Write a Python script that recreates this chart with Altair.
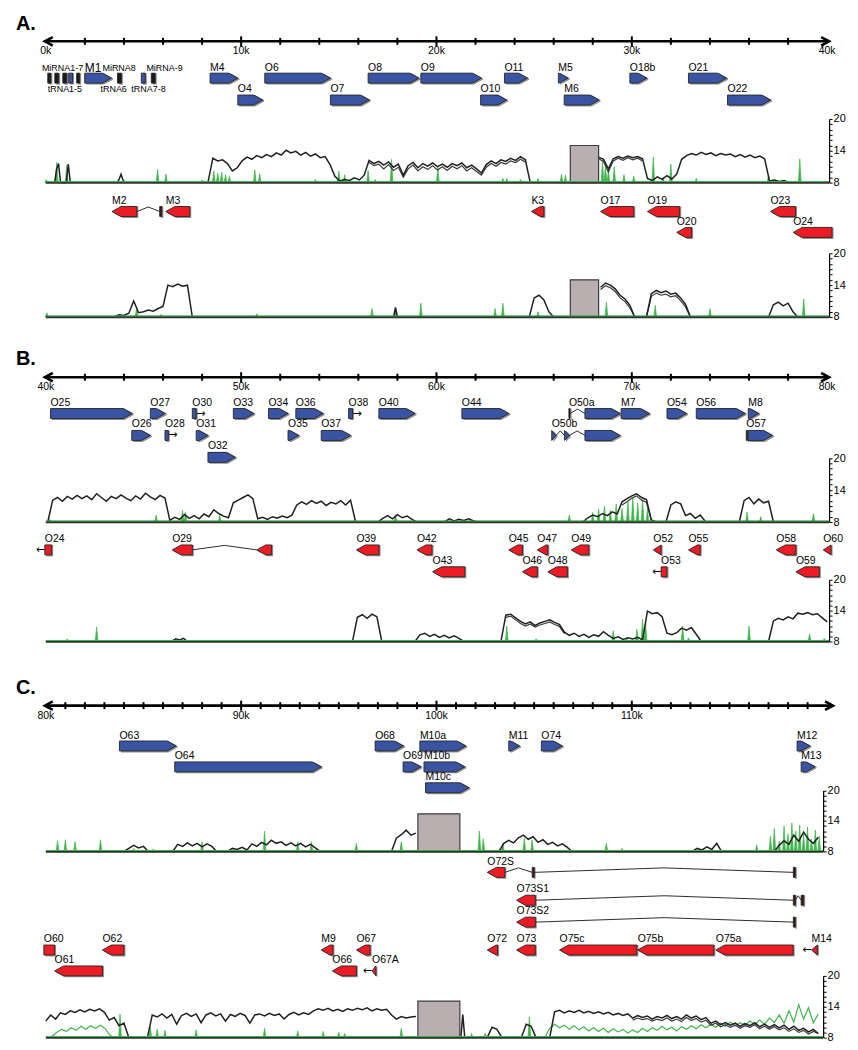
import altair as alt
import pandas as pd

FONT = "Liberation Sans"
BLUE = "#3a54a4"
RED = "#ed1c24"
GREEN = "#3cb54a"
INK = "#231f20"
KB_PX = 19.63
LEFT = 38 / KB_PX
TIP = 0.46

# ---------------- axis / panel data ----------------
TICKLAB_A = ["0k", "10k", "20k", "30k", "40k"]
TICKPOS_A = [0, 10, 20, 30, 40]
TICKLAB_B = ["40k", "50k", "60k", "70k", "80k"]
TICKPOS_B = [40, 50, 60, 70, 80]
TICKLAB_C = ["80k", "90k", "100k", "110k"]
TICKPOS_C = [80, 90, 100, 110]
MAJOR_A = [10, 20, 30]
MINOR_A = [2, 4, 6, 8, 12, 14, 16, 18, 22, 24, 26, 28, 32, 34, 36, 38]
MAJOR_B = [50, 60, 70]
MINOR_B = [42, 44, 46, 48, 52, 54, 56, 58, 62, 64, 66, 68, 72, 74, 76, 78]
MAJOR_C = [90, 100, 110]
MINOR_C = [81, 82, 83, 84, 85, 86, 87, 88, 89, 91, 92, 93, 94, 95, 96, 97, 98, 99,
           101, 102, 103, 104, 105, 106, 107, 108, 109, 111, 112, 113, 114, 115,
           116, 117, 118, 119]

# ---------------- gene features: (label, start kb, end kb, shape) ----------------
A_F1 = [("", 0.10, 0.26, "bar"), ("", 0.46, 0.66, "bar"), ("", 0.87, 1.07, "bar"),
        ("", 1.17, 1.37, "box"), ("", 1.58, 1.73, "bar"), ("M1", 1.99, 3.36, "fwd"),
        ("", 3.67, 3.87, "bar"), ("", 4.89, 5.09, "box"), ("", 5.40, 5.60, "bar"),
        ("M4", 8.41, 9.83, "fwd"), ("O6", 11.21, 14.57, "fwd"), ("O8", 16.50, 19.10, "fwd"),
        ("O9", 19.20, 22.30, "fwd"), ("O11", 23.48, 24.66, "fwd"), ("M5", 26.24, 26.74, "fwd"),
        ("O18b", 29.90, 30.77, "fwd"), ("O21", 32.90, 34.85, "fwd")]
A_F2 = [("O4", 9.83, 11.10, "fwd"), ("O7", 14.57, 16.56, "fwd"), ("O10", 22.26, 23.59, "fwd"),
        ("M6", 26.54, 28.32, "fwd"), ("O22", 34.90, 37.10, "fwd")]
A_R1 = [("M2", 3.39, 4.66, "rev"), ("", 5.83, 5.94, "bar"), ("M3", 6.14, 7.37, "rev"),
        ("K3", 24.86, 25.50, "rev"), ("O17", 28.40, 30.10, "rev"), ("O19", 30.80, 32.45, "rev"),
        ("O23", 37.10, 38.38, "rev")]
A_R2 = [("O20", 32.30, 33.06, "rev"), ("O24", 38.26, 40.25, "rev")]

B_F1 = [("O25", 40.24, 44.42, "fwd"), ("O27", 45.35, 46.11, "fwd"), ("O30", 47.50, 47.70, "box"),
        ("O33", 49.60, 50.65, "fwd"), ("O34", 51.40, 52.40, "fwd"), ("O36", 52.80, 54.20, "fwd"),
        ("O38", 55.50, 55.70, "box"), ("O40", 57.05, 58.90, "fwd"), ("O44", 61.30, 63.70, "fwd"),
        ("O50a", 66.78, 66.84, "bar"), ("", 67.60, 69.40, "fwd"), ("M7", 69.45, 70.90, "fwd"),
        ("O54", 71.80, 72.80, "fwd"), ("O56", 73.30, 75.80, "fwd"), ("M8", 75.96, 76.50, "fwd")]
B_F2 = [("O26", 44.40, 45.35, "fwd"), ("O28", 46.10, 46.27, "box"), ("O31", 47.70, 48.30, "fwd"),
        ("O35", 52.40, 52.95, "fwd"), ("O37", 54.10, 55.60, "fwd"), ("O50b", 65.90, 66.12, "fwd"),
        ("", 66.55, 66.80, "fwd"), ("", 67.60, 69.40, "fwd"), ("O57", 75.86, 75.93, "bar"),
        ("", 75.96, 77.20, "fwd")]
B_F3 = [("O32", 48.30, 49.70, "fwd")]
B_R1 = [("O24", 39.95, 40.30, "box"), ("O29", 46.47, 47.50, "rev"), ("", 50.80, 51.56, "rev"),
        ("O39", 55.90, 57.06, "rev"), ("O42", 59.00, 59.77, "rev"), ("O45", 63.70, 64.40, "rev"),
        ("O47", 65.16, 65.70, "rev"), ("O49", 66.90, 67.80, "rev"), ("O52", 71.10, 71.50, "rev"),
        ("O55", 72.90, 73.50, "rev"), ("O58", 77.40, 78.40, "rev"), ("O60", 79.80, 80.20, "rev")]
B_R2 = [("O43", 59.80, 61.45, "rev"), ("O46", 64.40, 65.16, "rev"), ("O48", 65.70, 66.70, "rev"),
        ("O53", 71.50, 71.80, "box"), ("O59", 78.40, 79.60, "rev")]

C_F1 = [("O63", 83.77, 86.67, "fwd"), ("O68", 96.86, 98.31, "fwd"), ("M10a", 99.15, 101.50, "fwd"),
        ("M11", 103.70, 104.25, "fwd"), ("O74", 105.37, 106.44, "fwd"), ("M12", 118.46, 119.12, "fwd")]
C_F2 = [("O64", 86.60, 94.10, "fwd"), ("O69", 98.29, 99.20, "fwd"), ("M10b", 99.36, 101.45, "fwd"),
        ("M13", 118.67, 119.38, "fwd")]
C_F3 = [("M10c", 99.44, 101.66, "fwd")]
C_S1 = [("O72S", 102.60, 103.50, "rev"), ("", 104.90, 105.00, "bar"), ("", 118.27, 118.37, "bar")]
C_S2 = [("O73S1", 104.10, 105.06, "rev"), ("", 118.27, 118.37, "bar"), ("", 118.67, 118.80, "bar")]
C_S3 = [("O73S2", 104.10, 105.06, "rev"), ("", 118.27, 118.37, "bar")]
C_R1 = [("O60", 79.90, 80.45, "box"), ("O62", 82.90, 84.00, "rev"), ("M9", 94.10, 94.70, "rev"),
        ("O67", 95.90, 96.60, "rev"), ("O72", 102.60, 103.13, "rev"), ("O73", 104.10, 105.06, "rev"),
        ("O75c", 106.30, 110.26, "rev"), ("O75b", 110.30, 114.20, "rev"), ("O75a", 114.30, 118.26, "rev"),
        ("M14", 119.20, 119.50, "rev")]
C_R2 = [("O61", 80.45, 82.90, "rev"), ("O66", 94.67, 95.90, "rev"), ("O67A", 96.70, 96.90, "rev")]

ROWS = {("A", "F1"): A_F1, ("A", "F2"): A_F2, ("A", "R1"): A_R1, ("A", "R2"): A_R2,
        ("B", "F1"): B_F1, ("B", "F2"): B_F2, ("B", "F3"): B_F3, ("B", "R1"): B_R1, ("B", "R2"): B_R2,
        ("C", "F1"): C_F1, ("C", "F2"): C_F2, ("C", "F3"): C_F3, ("C", "S1"): C_S1, ("C", "S2"): C_S2,
        ("C", "S3"): C_S3, ("C", "R1"): C_R1, ("C", "R2"): C_R2}

# introns: (from kb, to kb)
SPLICES = {("A", "R1"): [(4.66, 5.83)],
           ("B", "F1"): [(66.84, 67.60)],
           ("B", "F2"): [(66.12, 66.55), (66.80, 67.60)],
           ("B", "R1"): [(47.50, 50.80)],
           ("C", "S1"): [(103.50, 104.90), (105.00, 118.27)],
           ("C", "S2"): [(105.06, 118.27), (118.37, 118.67)],
           ("C", "S3"): [(105.06, 118.27)]}

# continuation arrows: (kb, glyph)
CONTS = {("B", "F1"): [(47.70, "→"), (55.70, "→")],
         ("B", "F2"): [(46.27, "→")],
         ("B", "R1"): [(39.95, "←")],
         ("B", "R2"): [(71.50, "←")],
         ("C", "R1"): [(119.20, "←")],
         ("C", "R2"): [(96.70, "←")]}

NOTES = {("A", "F1"): [("MiRNA1-7", -0.20), ("MiRNA8", 2.90), ("MiRNA-9", 5.15)],
         ("A", "F2"): [("tRNA1-5", 0.10), ("tRNA6", 2.80), ("tRNA7-8", 4.38)]}
BIG_LABELS = {"M1": 12}

# ---------------- coverage (log2 scale, 8-20) ----------------
BLACK_A1 = [
    (0.45, 0.1, [8.0, 10.5, 11.6, 8.2, 8.0, 8.0, 8.1, 11.5, 8.1]),
    (3.65, 0.1, [8.0, 8.6, 9.6, 8.5, 8.0]),
    (8.30, 0.25, [8.0, 12.6, 12.1, 12.3, 11.6, 10.2, 10.8, 12.1, 12.8, 12.4, 13.1, 12.7, 13.3, 12.9,
                  13.6, 13.2, 14.1, 13.6, 13.9, 13.2, 13.7, 13.0, 13.4, 12.7, 12.9, 11.4, 9.2, 8.3,
                  8.6, 8.4, 8.9, 8.5, 9.4, 12.2, 11.6, 12.0, 11.3, 11.9, 10.9, 11.5, 9.4, 11.2, 11.8,
                  10.8, 11.6, 11.1, 11.7, 11.0, 11.5, 10.9, 11.6, 11.2, 11.7, 10.8, 11.3, 10.6, 9.8,
                  11.4, 12.1, 11.6, 12.3, 12.0, 12.6, 12.2, 12.9, 12.3, 8.0]),
    (28.30, 0.25, [12.8, 12.4, 10.6, 12.5, 12.9, 12.6, 13.0, 12.7, 12.9, 12.5, 8.8, 8.4, 9.1, 8.6,
                   9.3, 8.7, 9.6, 12.4, 13.1, 13.5, 13.2, 13.7, 13.3, 13.6, 13.1, 13.5, 13.2, 13.4,
                   12.9, 13.3, 12.8, 13.2, 12.7, 13.0, 12.5, 8.3, 8.5, 8.2, 8.4, 8.0]),
]
BLACK_A2 = [
    (3.50, 0.25, [8.0, 8.4, 8.3, 8.7, 11.0, 8.8, 9.0, 9.3, 9.1, 9.6, 10.0, 14.0, 13.7, 14.2, 13.8, 14.0, 8.0]),
    (17.80, 0.1, [8.0, 9.8, 8.0]),
    (24.75, 0.25, [8.0, 11.6, 12.1, 11.2, 9.0, 8.0]),
    (28.40, 0.25, [13.6, 14.4, 14.0, 13.3, 12.1, 11.4, 10.2, 8.0]),
    (30.75, 0.25, [8.0, 12.4, 13.0, 12.6, 12.9, 12.3, 12.5, 11.6, 10.4, 8.0]),
    (37.00, 0.25, [8.0, 10.3, 10.8, 10.1, 10.6, 9.0, 8.0]),
]
BLACK_B1 = [
    (40.10, 0.25, [8.0, 12.1, 12.6, 11.9, 12.8, 12.3, 13.0, 12.4, 12.9, 12.2, 13.3, 12.6, 11.9, 12.8,
                   12.4, 13.1, 12.5, 12.0, 12.9, 12.3, 13.4, 12.7, 12.2, 13.0, 12.5, 8.3, 8.9, 8.5,
                   9.4, 8.7, 9.2, 8.6, 9.5, 9.0, 10.3, 9.6, 9.1, 8.8, 11.6, 12.1, 12.6, 13.1, 12.4,
                   8.6, 8.9, 8.5, 9.0, 8.7, 9.1, 8.8, 9.3, 11.2, 11.8, 11.3, 12.0, 11.5, 11.9, 11.1,
                   11.7, 11.4, 12.0, 11.2, 12.1, 8.2]),
    (57.00, 0.25, [8.0, 8.7, 9.2, 8.6, 9.4, 8.8, 9.1, 8.5, 8.0]),
    (60.40, 0.25, [8.0, 8.6, 8.2, 8.5, 8.3, 8.6, 8.2, 8.0]),
    (67.50, 0.25, [8.0, 8.8, 9.3, 9.0, 9.6, 9.2, 9.9, 9.5, 11.8, 12.4, 12.9, 13.3, 12.6, 12.2, 8.4, 8.0]),
    (71.75, 0.25, [8.0, 11.2, 11.8, 11.4, 9.2, 9.6, 8.7, 9.3, 8.2]),
    (75.50, 0.25, [8.0, 12.0, 12.6, 11.4, 12.3, 11.6, 11.9, 8.0]),
]
BLACK_B2 = [
    (46.45, 0.2, [8.0, 8.5, 8.3, 8.6, 8.0]),
    (55.70, 0.25, [8.0, 12.7, 13.2, 12.5, 13.3, 12.8, 8.0]),
    (58.90, 0.25, [8.0, 9.3, 9.6, 9.0, 9.4, 8.8, 9.2, 8.7, 9.1, 8.6, 8.0]),
    (63.30, 0.25, [8.0, 13.1, 13.3, 12.6, 11.9, 11.4, 11.8, 11.1, 11.6, 11.9, 12.2, 11.7, 11.3, 9.8,
                   9.2, 9.6, 9.0, 9.4, 8.8, 9.3, 9.0, 9.9, 9.2, 8.6, 8.9, 8.4, 8.7, 8.5, 8.8, 8.3,
                   13.9, 13.4, 13.6, 12.8, 9.6, 9.3, 9.7, 10.6, 10.2, 10.7, 9.4, 8.0]),
    (77.00, 0.25, [8.0, 12.0, 12.5, 12.2, 12.8, 12.4, 13.5, 13.3, 13.6, 13.2, 13.4, 12.6, 11.8]),
]
BLACK_C1 = [
    (84.00, 0.25, [8.0, 8.6, 9.2, 8.7, 9.0, 8.0]),
    (86.50, 0.25, [8.0, 9.4, 9.0, 9.7, 9.1, 9.6, 8.9, 9.5, 9.0, 8.0]),
    (89.30, 0.25, [8.0, 8.6, 8.4, 8.8, 8.3, 9.5, 9.0, 9.8, 9.3, 10.2, 9.6, 9.9, 9.2, 9.7, 9.1, 9.6,
                   8.9, 9.4, 8.7, 8.0]),
    (97.70, 0.25, [8.0, 10.6, 11.3, 12.2, 11.2, 11.6]),
    (103.20, 0.25, [8.0, 9.6, 10.2, 9.7, 10.7, 11.2, 10.4, 10.9, 9.8, 10.3, 9.4, 9.8, 9.1, 9.5, 8.8, 8.0]),
    (113.10, 0.25, [8.0, 8.6, 8.3, 8.9, 8.4, 9.6, 8.0]),
    (117.30, 0.25, [8.0, 9.2, 10.1, 9.4, 11.2, 10.0, 11.8, 10.4, 9.6, 10.8]),
]
BLACK_C2 = [
    (80.00, 0.25, [11.2, 12.4, 11.6, 12.8, 12.5, 13.2, 12.9, 13.4, 13.0, 13.5, 13.2, 13.6, 12.9, 11.4,
                   11.9, 10.3, 10.8, 8.0]),
    (85.20, 0.25, [8.0, 12.4, 12.0, 12.6, 11.8, 12.5, 10.6, 12.3, 12.7, 12.1, 12.6, 10.9, 12.4, 12.8,
                   12.2, 12.6, 11.2, 12.5, 12.1, 12.7, 12.3, 10.8, 12.4, 12.6, 12.2, 12.7, 12.3, 12.6,
                   11.6, 12.5, 12.9, 12.4, 12.8, 12.5, 13.2, 13.6, 13.3, 13.7, 13.2, 13.5, 13.1, 13.6,
                   13.3, 13.7, 13.4, 13.8, 13.2, 13.6, 13.3, 13.5, 12.4, 11.6, 12.1, 11.8, 12.0, 12.1]),
    (101.25, 0.1, [8.0, 12.5, 8.0]),
    (102.60, 0.25, [8.0, 10.0, 9.6, 8.0]),
    (104.35, 0.25, [8.0, 10.6, 10.2, 8.0]),
    (105.80, 0.25, [8.0, 13.0, 13.3, 12.8, 13.2, 12.9, 13.3, 12.8, 13.1, 12.7, 13.0, 12.6, 12.9, 12.4,
                    12.7, 12.3, 12.6, 11.8, 12.3, 11.9, 12.2, 11.6, 12.1, 11.8, 12.3, 11.7, 12.1, 11.6,
                    12.4, 11.8, 12.2, 11.5, 11.9, 10.8, 11.2, 10.5, 10.9, 10.4, 10.8, 10.2, 10.7, 10.3,
                    10.9, 10.1, 10.6, 10.0, 10.5, 9.9, 10.4, 9.6, 10.2, 9.4, 9.8, 9.1, 9.6, 8.8]),
]
# second replicate, only where it separates visibly from the first
REPL_A1 = [(16.55, 0.25, [11.8, 11.2, 11.5, 10.6, 11.4, 10.3, 10.9, 9.0, 10.6, 11.3, 10.2, 11.0, 10.5,
                          11.2, 10.4, 11.0, 10.3, 11.1, 10.6, 11.2, 10.2, 10.8, 10.1, 9.4, 10.9, 11.6,
                          11.1, 11.8, 11.5, 12.1, 11.8, 12.4, 11.9]),
           (28.30, 0.25, [12.5, 12.0, 10.0, 12.1, 12.6, 12.2, 12.7, 12.3, 12.6, 12.1])]
REPL_A2 = [(28.40, 0.25, [13.2, 13.9, 13.5, 12.8, 11.6, 10.9, 9.7, 8.0]),
           (30.75, 0.25, [8.0, 11.9, 12.5, 12.1, 12.3, 11.8, 12.0, 11.1, 9.9, 8.0])]
REPL_B1 = [(69.50, 0.25, [11.2, 11.8, 12.5, 12.9, 12.1, 11.7, 8.3])]
REPL_B2 = [(63.55, 0.25, [12.7, 12.9, 12.2, 11.5, 11.0, 11.4, 10.8, 11.2, 11.5, 11.8, 11.3, 10.9, 9.5])]
REPL_C2 = [(110.05, 0.25, [11.4, 11.8, 11.5, 11.7, 11.2, 11.6, 11.3, 11.8, 11.2, 11.6, 11.1, 11.9, 11.3,
                           11.7, 11.0, 11.4, 10.4, 10.8, 10.1, 10.5, 10.0, 10.4, 9.8, 10.3, 10.0, 10.5,
                           9.7, 10.2, 9.6, 10.1, 9.5, 9.9, 9.2, 9.7, 9.0, 9.4, 8.7, 9.2, 8.8])]
GREEN_SEG_C2 = [
    (80.30, 0.25, [8.2, 9.0, 9.6, 9.2, 9.9, 9.4, 10.2, 9.6, 10.3, 9.8, 10.4, 9.7, 8.4, 8.0]),
    (105.55, 0.25, [8.0, 9.8, 10.6, 9.9, 10.4, 9.6, 10.3, 9.5, 10.1, 9.3, 9.9, 9.2, 9.8, 9.0, 9.7, 9.1,
                    9.6, 8.9, 9.5, 9.0, 9.8, 9.2, 9.9, 9.4, 10.2, 9.5, 10.0, 9.3, 10.1, 9.6, 10.3, 9.7,
                    10.5, 9.9, 10.6, 10.0, 10.8, 10.2, 11.0, 10.3, 10.9, 10.4, 11.2, 10.5, 11.4, 10.6,
                    11.8, 10.9, 12.4, 10.8, 13.2, 11.0, 14.4, 11.6, 13.8, 10.9, 12.6]),
]
# green peaks: (kb, height)
GREEN_A1 = [(0.03, 8.6), (0.56, 11.8), (1.07, 11.3), (5.72, 10.5), (6.15, 9.6), (8.0, 8.5), (8.6, 10.2),
            (8.8, 9.8), (9.0, 10.0), (9.2, 9.5), (9.4, 9.2), (10.7, 10.4), (10.95, 9.7), (13.8, 8.6),
            (15.0, 10.2), (15.3, 9.5), (16.5, 10.3), (16.86, 8.6), (17.7, 12.4), (20.07, 10.9),
            (23.4, 8.8), (23.6, 8.8), (24.3, 8.6), (25.2, 8.8), (26.4, 9.6), (26.6, 9.4), (28.5, 12.0),
            (28.65, 11.2), (28.8, 10.4), (29.1, 11.0), (29.6, 9.5), (30.1, 9.2), (31.1, 12.8),
            (31.6, 9.0), (32.0, 11.5), (33.3, 8.8), (37.0, 9.6), (38.6, 12.5)]
GREEN_A2 = [(0.05, 8.8), (4.65, 9.9), (5.9, 8.5), (10.8, 8.6), (16.7, 9.6), (17.9, 9.2), (19.2, 10.6),
            (23.0, 9.6), (23.4, 10.6), (25.2, 9.0), (28.7, 10.8), (31.2, 10.2), (34.0, 9.6), (38.8, 11.4)]
GREEN_B1 = [(40.2, 8.5), (45.65, 9.3), (47.0, 10.2), (47.15, 9.8), (48.9, 9.3), (57.9, 9.4), (66.8, 9.3),
            (68.0, 9.8), (68.3, 10.4), (68.6, 11.0), (68.9, 10.2), (69.2, 11.4), (69.5, 10.6),
            (69.8, 11.8), (70.05, 12.7), (70.3, 11.6), (70.55, 12.2), (70.8, 10.5), (75.9, 9.9),
            (76.6, 9.0), (79.3, 9.6)]
GREEN_B2 = [(41.1, 8.5), (42.6, 10.8), (63.6, 11.0), (65.1, 8.5), (69.05, 10.1), (69.75, 8.6),
            (70.26, 10.4), (70.55, 12.3), (70.7, 11.8), (72.6, 11.0), (72.9, 8.7), (76.0, 11.0),
            (79.1, 9.5), (79.85, 8.6)]
GREEN_C1 = [(80.6, 10.1), (81.0, 10.3), (81.5, 9.9), (82.8, 10.3), (84.5, 8.6), (85.5, 8.5), (88.0, 9.9),
            (91.2, 12.0), (92.9, 9.9), (93.6, 9.9), (95.9, 9.6), (98.2, 9.9), (102.2, 12.0),
            (102.4, 10.5), (103.4, 9.6), (104.5, 10.6), (104.9, 10.3), (108.7, 9.6), (109.5, 8.6),
            (116.4, 9.3), (117.1, 11.0), (117.3, 12.5), (117.55, 10.0), (117.8, 13.0), (118.0, 11.5),
            (118.2, 13.6), (118.4, 12.0), (118.6, 13.2), (118.8, 11.4), (119.0, 12.8), (119.2, 10.5),
            (119.4, 12.2), (119.6, 11.0)]
GREEN_C2 = [(83.8, 12.6), (85.35, 10.0), (85.7, 9.6), (86.1, 9.4), (87.7, 9.5), (91.2, 9.8), (92.9, 9.3),
            (94.2, 9.2), (95.0, 9.0), (95.3, 8.8), (98.2, 9.8), (101.8, 8.8), (102.5, 8.8),
            (104.76, 12.0)]
# masked regions: (start kb, end kb, top)
BOXES = {"A1": (26.85, 28.30, 15.0), "A2": (26.85, 28.30, 15.0),
         "C1": (99.05, 101.20, 15.4), "C2": (99.05, 101.20, 15.1)}
BLACK_SERIES = {"A1": BLACK_A1, "A2": BLACK_A2, "B1": BLACK_B1, "B2": BLACK_B2, "C1": BLACK_C1,
                "C2": BLACK_C2}
REPL_SERIES = {"A1": REPL_A1, "A2": REPL_A2, "B1": REPL_B1, "B2": REPL_B2, "C2": REPL_C2}
GREENS = {"A1": GREEN_A1, "A2": GREEN_A2, "B1": GREEN_B1, "B2": GREEN_B2, "C1": GREEN_C1, "C2": GREEN_C2}
GREEN_SEGS = {"C2": GREEN_SEG_C2}

PANEL = {
    "A": dict(S=0, end=40.1, line=(0, 40.05), heads=(-0.05, 40.1), cov_end=40.1,
              major=MAJOR_A, minor=MINOR_A, tl=TICKLAB_A, tp=TICKPOS_A),
    "B": dict(S=40, end=80.1, line=(40, 80.05), heads=(39.95, 80.1), cov_end=80.1,
              major=MAJOR_B, minor=MINOR_B, tl=TICKLAB_B, tp=TICKPOS_B),
    "C": dict(S=80, end=120.1, line=(80, 120.25), heads=(79.95, 120.3), cov_end=119.8,
              major=MAJOR_C, minor=MINOR_C, tl=TICKLAB_C, tp=TICKPOS_C),
}

SEQ = {
    "A": [("title", None, 27), ("axis", None, 8), ("ticks", None, 11), ("sp", None, 6),
          ("lab", "F1", 11), ("arr", "F1", 10), ("lab", "F2", 12), ("arr", "F2", 10), ("sp", None, 14),
          ("cov", "1", 64), ("sp", None, 13), ("lab", "R1", 11), ("arr", "R1", 10), ("lab", "R2", 11),
          ("arr", "R2", 10), ("sp", None, 16), ("cov", "2", 64)],
    "B": [("sp", None, 29), ("title", None, 27), ("axis", None, 9), ("ticks", None, 11), ("sp", None, 5),
          ("lab", "F1", 11), ("arr", "F1", 10), ("lab", "F2", 12), ("arr", "F2", 10), ("lab", "F3", 12),
          ("arr", "F3", 10), ("cov", "1", 60), ("sp", None, 11), ("lab", "R1", 12), ("arr", "R1", 10),
          ("lab", "R2", 12), ("arr", "R2", 10), ("sp", None, 3), ("cov", "2", 62)],
    "C": [("sp", None, 33), ("title", None, 27), ("axis", None, 9), ("ticks", None, 11), ("sp", None, 9),
          ("lab", "F1", 11), ("arr", "F1", 10), ("lab", "F2", 11), ("arr", "F2", 10), ("lab", "F3", 11),
          ("arr", "F3", 10), ("cov", "1", 59), ("sp", None, 5), ("lab", "S1", 11), ("arr", "S1", 10),
          ("sp", None, 6), ("lab", "S2", 12), ("arr", "S2", 10), ("lab", "S3", 12), ("arr", "S3", 10),
          ("sp", None, 6), ("lab", "R1", 12), ("arr", "R1", 10), ("lab", "R2", 11), ("arr", "R2", 10),
          ("cov", "2", 62)],
}
COV_RANGE_TOP = {"B1": -4.3, "C1": -2.3}


def xenc(field, dom):
    return alt.X(f"{field}:Q", scale=alt.Scale(domain=dom, nice=False, zero=False), axis=None)


def verts(s, e, shape):
    if shape == "fwd":
        t = e - TIP
        if t <= s:
            return [(s, -1, 1), (e, 0, 0)]
        return [(s, -1, 1), (t, -1, 1), (e, 0, 0)]
    if shape == "rev":
        t = s + TIP
        if t >= e:
            return [(s, 0, 0), (e, -1, 1)]
        return [(s, 0, 0), (t, -1, 1), (e, -1, 1)]
    return [(s, -1, 1), (e, -1, 1)]


def series_rows(segs):
    rows = []
    for k, (s, st, vals) in enumerate(segs):
        rows += [{"seg": k, "x": round(s + i * st, 3), "v": v} for i, v in enumerate(vals)]
    return pd.DataFrame(rows)


def spacer(W, h):
    return alt.Chart(pd.DataFrame({"a": [0]})).mark_point(opacity=0).properties(width=W, height=h)


def title_chart(letter, W, h):
    return alt.Chart(pd.DataFrame({"t": [letter + "."]})).mark_text(
        align="left", baseline="middle", fontSize=20, fontWeight="bold", font=FONT, color="black"
    ).encode(text="t:N", x=alt.value(8)).properties(width=W, height=h)


def axis_chart(p, dom, W, h):
    P = PANEL[p]
    line = alt.Chart(pd.DataFrame({"x": [P["line"][0]], "x2": [P["line"][1]]})).mark_rule(
        color="black", strokeWidth=2.6).encode(x=xenc("x", dom), x2="x2:Q")
    minor = alt.Chart(pd.DataFrame({"x": P["minor"]})).mark_tick(
        color="black", thickness=2, size=7, opacity=1).encode(x=xenc("x", dom))
    major = alt.Chart(pd.DataFrame({"x": P["major"]})).mark_tick(
        color="black", thickness=2, size=10, opacity=1).encode(x=xenc("x", dom))
    lh = alt.Chart(pd.DataFrame({"x": [P["heads"][0]]})).mark_point(
        shape="M 1.6 -0.85 L 0 0 L 1.6 0.85", size=100, filled=False, strokeWidth=2.6,
        color="black", opacity=1).encode(x=xenc("x", dom))
    rh = alt.Chart(pd.DataFrame({"x": [P["heads"][1]]})).mark_point(
        shape="M -1.6 -0.85 L 0 0 L -1.6 0.85", size=100, filled=False, strokeWidth=2.6,
        color="black", opacity=1).encode(x=xenc("x", dom))
    return alt.layer(line, minor, major, lh, rh).properties(width=W, height=h)


def ticks_chart(p, dom, W, h):
    P = PANEL[p]
    df = pd.DataFrame({"x": P["tp"], "t": P["tl"]})
    return alt.Chart(df).mark_text(align="center", baseline="middle", fontSize=10.5, font=FONT,
                                   color="black").encode(x=xenc("x", dom), text="t:N").properties(width=W, height=h)


def label_chart(p, r, dom, W, h):
    rows = [{"x": s, "text": lab, "fs": BIG_LABELS.get(lab, 10.5)} for (lab, s, e, sh) in ROWS[(p, r)] if lab]
    rows += [{"x": x, "text": t, "fs": 9} for (t, x) in NOTES.get((p, r), [])]
    df = pd.DataFrame(rows)
    return alt.Chart(df).mark_text(align="left", baseline="middle", font=FONT, color="black").encode(
        x=xenc("x", dom), text="text:N", size=alt.Size("fs:Q", scale=None)).properties(width=W, height=h)


def arrow_chart(p, r, dom, W, h):
    fwd = r.startswith("F")
    main_fill = BLUE if fwd else RED
    bar_fill = "#1a1a1a" if fwd else "#4a0f10"
    poly = []
    for i, (lab, s, e, sh) in enumerate(ROWS[(p, r)]):
        f = bar_fill if sh == "bar" else main_fill
        for (x, y, y2) in verts(s, e, sh):
            poly.append({"fid": i, "x": x, "y": y, "y2": y2, "fill": f})
    pdf = pd.DataFrame(poly)
    ys = alt.Scale(domain=[-1, 1], nice=False, zero=False)
    base = alt.Chart(pdf).encode(x=xenc("x", dom), y=alt.Y("y:Q", scale=ys, axis=None, stack=False),
                                 y2="y2:Q", detail="fid:N")
    shadow = base.mark_area(color="#8f8f8f", xOffset=1.5, yOffset=1.5, opacity=1)
    main = base.mark_area(stroke="#262626", strokeWidth=0.9, opacity=1).encode(
        fill=alt.Fill("fill:N", scale=None))
    layers = [shadow, main]
    sp = SPLICES.get((p, r), [])
    if sp:
        rows = []
        for k, (a, b) in enumerate(sp):
            rows += [{"cid": k, "x": a, "y": 0.0}, {"cid": k, "x": (a + b) / 2, "y": 0.9},
                     {"cid": k, "x": b, "y": 0.0}]
        layers.append(alt.Chart(pd.DataFrame(rows)).mark_line(color="#2b2b2b", strokeWidth=1).encode(
            x=xenc("x", dom), y=alt.Y("y:Q", scale=ys, axis=None), detail="cid:N"))
    for glyph, align in (("→", "left"), ("←", "right")):
        pts = [x for (x, g) in CONTS.get((p, r), []) if g == glyph]
        if pts:
            layers.append(alt.Chart(pd.DataFrame({"x": pts})).mark_text(
                text=glyph, align=align, baseline="middle", fontSize=11, font="DejaVu Sans",
                color="black").encode(x=xenc("x", dom)))
    return alt.layer(*layers).properties(width=W, height=h)


COV_AXIS = alt.Axis(orient="right", values=list(range(8, 21)),
                    labelExpr="(datum.value == 8 || datum.value == 14 || datum.value == 20) ? datum.label : ''",
                    tickSize=3, tickWidth=1, tickColor="black", domainColor="black", domainWidth=1.2,
                    labelFont=FONT, labelFontSize=11, labelColor="black", labelPadding=1, grid=False,
                    title="", labelFlush=False, labelOverlap=False)


def cov_chart(p, t, dom, W, h):
    key = p + t
    if key in COV_RANGE_TOP:
        ys = alt.Scale(domain=[8, 20], nice=False, zero=False, range=[h, COV_RANGE_TOP[key]])
    else:
        ys = alt.Scale(domain=[8, 20], nice=False, zero=False)

    def Y(f):
        return alt.Y(f"{f}:Q", scale=ys, axis=COV_AXIS, stack=False)

    layers = []
    g = []
    for k, (x, v) in enumerate(GREENS[key]):
        g += [{"gid": k, "x": x - 0.07, "v": 8.0, "v0": 8.0}, {"gid": k, "x": x, "v": v, "v0": 8.0},
              {"gid": k, "x": x + 0.07, "v": 8.0, "v0": 8.0}]
    layers.append(alt.Chart(pd.DataFrame(g)).mark_area(color=GREEN, stroke=GREEN, strokeWidth=0.7,
                                                         opacity=1).encode(
        x=xenc("x", dom), y=Y("v"), y2="v0:Q", detail="gid:N"))
    if key in GREEN_SEGS:
        layers.append(alt.Chart(series_rows(GREEN_SEGS[key])).mark_line(color=GREEN, strokeWidth=1.2).encode(
            x=xenc("x", dom), y=Y("v"), detail="seg:N"))
    if key in REPL_SERIES:
        layers.append(alt.Chart(series_rows(REPL_SERIES[key])).mark_line(color="#3a3a3a", strokeWidth=1.2).encode(
            x=xenc("x", dom), y=Y("v"), detail="seg:N"))
    layers.append(alt.Chart(series_rows(BLACK_SERIES[key])).mark_line(color=INK, strokeWidth=1.5).encode(
        x=xenc("x", dom), y=Y("v"), detail="seg:N"))
    if key in BOXES:
        a, b, top = BOXES[key]
        layers.append(alt.Chart(pd.DataFrame({"x": [a], "x2": [b], "v": [8.0], "v1": [top]})).mark_rect(
            fill="#b9aeb0", stroke="#3d3d3d", strokeWidth=1.2).encode(
            x=xenc("x", dom), x2="x2:Q", y=Y("v"), y2="v1:Q"))
    P = PANEL[p]
    bl = pd.DataFrame({"x": [P["S"]], "x2": [P["cov_end"]], "v": [8.0]})
    layers.append(alt.Chart(bl).mark_rule(color="#2e2e2e", strokeWidth=2.4).encode(
        x=xenc("x", dom), x2="x2:Q", y=Y("v")))
    layers.append(alt.Chart(bl).mark_rule(color=GREEN, strokeWidth=1, yOffset=-1).encode(
        x=xenc("x", dom), x2="x2:Q", y=Y("v")))
    return alt.layer(*layers).properties(width=W, height=h)


charts = []
for p in ["A", "B", "C"]:
    P = PANEL[p]
    dom = [P["S"] - LEFT, P["end"]]
    W = round((dom[1] - dom[0]) * KB_PX)
    cdom = [P["S"] - LEFT, P["cov_end"]]
    CW = round((cdom[1] - cdom[0]) * KB_PX)
    for kind, arg, h in SEQ[p]:
        if kind == "sp":
            charts.append(spacer(W, h))
        elif kind == "title":
            charts.append(title_chart(p, W, h))
        elif kind == "axis":
            charts.append(axis_chart(p, dom, W, h))
        elif kind == "ticks":
            charts.append(ticks_chart(p, dom, W, h))
        elif kind == "lab":
            charts.append(label_chart(p, arg, dom, W, h))
        elif kind == "arr":
            charts.append(arrow_chart(p, arg, dom, W, h))
        elif kind == "cov":
            charts.append(cov_chart(p, arg, cdom, CW, h))

chart = alt.vconcat(*charts, spacing=0, bounds="flush").properties(
    padding={"left": 0, "top": 0, "right": 4, "bottom": 4}, background="white"
).configure_view(strokeWidth=0)

chart.save("out.html", embed_options={"renderer": "svg", "actions": False})
